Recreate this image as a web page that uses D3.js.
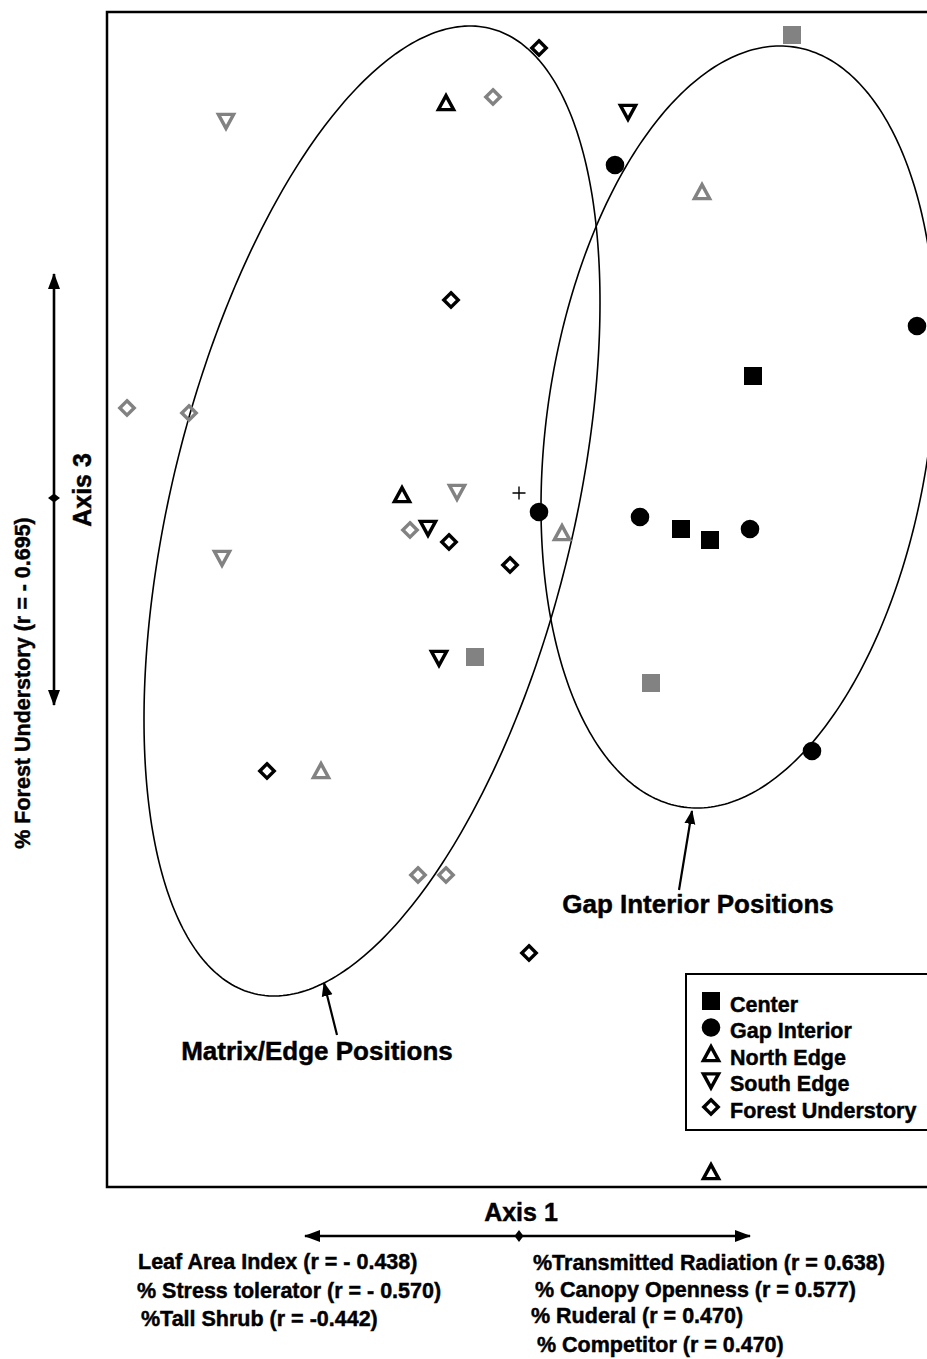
<!DOCTYPE html>
<html><head><meta charset="utf-8">
<script src="https://cdn.jsdelivr.net/npm/d3@7"></script>
<style>
body{margin:0;background:#fff}
svg{display:block}
text{font-family:"Liberation Sans",Arial,Helvetica,sans-serif;font-weight:bold;fill:#000;stroke:#000;stroke-width:0.45px}
</style>
</head><body>
<svg id="chart" width="927" height="1359"></svg>
<script>
// ---- DATA (ordination scores: [Axis 1, Axis 3]) ----
const groups = ["Center", "Gap Interior", "North Edge", "South Edge", "Forest Understory"];
const groupShapes = ["square", "circle", "triUp", "triDown", "diamond"];

const centerBlack = [[2.34, 1.17], [1.62, -0.36], [1.91, -0.47]];
const centerGray  = [[2.73, 4.58], [-0.44, -1.64], [1.32, -1.90]];
const gapBlack    = [[0.96, 3.28], [3.98, 1.67], [0.20, -0.19], [1.21, -0.24], [2.31, -0.36], [2.93, -2.58]];
const gapGray     = [];
const northBlack  = [[-0.73, 3.90], [-1.17, -0.02], [1.92, -6.79]];
const northGray   = [[1.83, 3.01], [0.43, -0.40], [-1.98, -2.78]];
const southBlack  = [[1.09, 3.81], [-0.91, -0.35], [-0.80, -1.65]];
const southGray   = [[-2.93, 3.72], [-0.62, 0.01], [-2.97, -0.65]];
const forestBlack = [[0.20, 4.45], [-0.68, 1.93], [-0.70, -0.49], [-0.09, -0.72], [-2.52, -2.78], [0.10, -4.60]];
const forestGray  = [[-0.26, 3.96], [-3.92, 0.85], [-3.30, 0.80], [-1.09, -0.37], [-1.01, -3.82], [-0.73, -3.82]];
const centroid = [0, 0];

// ellipses
const ellipseNames   = ["Matrix/Edge Positions", "Gap Interior Positions"];
const ellipseCenters = [[-1.47, -0.18], [2.195, 0.66]];
const ellipseRadii   = [[2.28, 4.85], [1.975, 3.81]];
const ellipseCorr    = [0.43, 0.21];
const labelAt        = [[-2.02, -5.67], [1.79, -4.20]];
const pointerFrom    = [[-1.82, -5.42], [1.60, -3.97]];
const pointerTo      = [[-1.95, -4.90], [1.73, -3.18]];

// axis labels
const xAxisTitle = "Axis 1";
const yAxisTitle = "Axis 3";
const yAxisVar = "% Forest Understory (r = - 0.695)";
const leftVars = ["Leaf Area Index (r = - 0.438)", "% Stress tolerator (r = - 0.570)", "%Tall Shrub (r = -0.442)"];
const rightVars = ["%Transmitted Radiation (r = 0.638)", "% Canopy Openness (r = 0.577)", "% Ruderal (r = 0.470)", "% Competitor (r = 0.470)"];

// ---- LAYOUT ----
const plot = {left: 107, top: 12, right: 935, bottom: 1187};
const BLACK = "#000", GRAY = "#828282";

const x = d3.scaleLinear().domain([-4.12, 4.16]).range([plot.left, plot.right]);
const y = d3.scaleLinear().domain([4.81, -6.94]).range([plot.top, plot.bottom]);

const svg = d3.select("#chart");
const defs = svg.append("defs");
defs.append("marker").attr("id", "ah").attr("viewBox", "0 -7 16 14")
  .attr("markerUnits", "userSpaceOnUse").attr("markerWidth", 16).attr("markerHeight", 14)
  .attr("refX", 15).attr("refY", 0).attr("orient", "auto-start-reverse")
  .append("path").attr("d", "M0,-6L16,0L0,6Z").attr("fill", BLACK);
defs.append("marker").attr("id", "ah2").attr("viewBox", "0 -6 14 12")
  .attr("markerUnits", "userSpaceOnUse").attr("markerWidth", 14).attr("markerHeight", 12)
  .attr("refX", 13).attr("refY", 0).attr("orient", "auto-start-reverse")
  .append("path").attr("d", "M0,-5.5L14,0L0,5.5Z").attr("fill", BLACK);

// frame
svg.append("rect").attr("x", plot.left).attr("y", plot.top)
  .attr("width", plot.right - plot.left).attr("height", plot.bottom - plot.top)
  .attr("fill", "none").attr("stroke", BLACK).attr("stroke-width", 2.5);

// ellipses
ellipseCenters.forEach((c, i) => {
  const [rx, ry] = ellipseRadii[i];
  const phi = Math.acos(ellipseCorr[i]);
  const pts = d3.range(0, 361).map(k => {
    const t = k * Math.PI / 180;
    return [c[0] + rx * Math.cos(t), c[1] + ry * Math.cos(t - phi)];
  });
  svg.append("path")
    .attr("d", d3.line().x(d => x(d[0])).y(d => y(d[1])).curve(d3.curveLinearClosed)(pts))
    .attr("fill", "none").attr("stroke", BLACK).attr("stroke-width", 1.6);
  svg.append("line")
    .attr("x1", x(pointerFrom[i][0])).attr("y1", y(pointerFrom[i][1]))
    .attr("x2", x(pointerTo[i][0])).attr("y2", y(pointerTo[i][1]))
    .attr("stroke", BLACK).attr("stroke-width", 2.2).attr("marker-end", "url(#ah2)");
  svg.append("text").attr("x", x(labelAt[i][0])).attr("y", y(labelAt[i][1]))
    .attr("text-anchor", "middle").attr("font-size", 26).text(ellipseNames[i]);
});

// centroid cross
svg.append("path")
  .attr("d", `M${x(centroid[0]) - 6.5},${y(centroid[1])}h13M${x(centroid[0])},${y(centroid[1]) - 6.5}v13`)
  .attr("stroke", BLACK).attr("stroke-width", 1.4).attr("fill", "none");

// symbol generator
function shapePath(s) {
  switch (s) {
    case "square": return "M-9,-9H9V9H-9Z";
    case "circle": return d3.symbol(d3.symbolCircle, Math.PI * 9.3 * 9.3)();
    case "triUp": return "M-7.6,6.6L7.6,6.6L0,-7.4Z";
    case "triDown": return "M-7.6,-6.6L7.6,-6.6L0,7.4Z";
    case "diamond": return "M0,-7.2L7.2,0L0,7.2L-7.2,0Z";
  }
}
function drawMarks(data, shape, color) {
  const filled = shape === "square" || shape === "circle";
  svg.append("g").selectAll("path").data(data).join("path")
    .attr("transform", d => `translate(${x(d[0])},${y(d[1])})`)
    .attr("d", shapePath(shape))
    .attr("fill", filled ? color : "none")
    .attr("stroke", filled ? "none" : color)
    .attr("stroke-width", 3.4).attr("stroke-linejoin", "miter");
}
const seriesBlack = [centerBlack, gapBlack, northBlack, southBlack, forestBlack];
const seriesGray  = [centerGray, gapGray, northGray, southGray, forestGray];
groupShapes.forEach((s, i) => { drawMarks(seriesGray[i], s, GRAY); });
groupShapes.forEach((s, i) => { drawMarks(seriesBlack[i], s, BLACK); });

// legend
const lg = svg.append("g");
lg.append("rect").attr("x", 686).attr("y", 974).attr("width", 260).attr("height", 156)
  .attr("fill", "#fff").attr("stroke", BLACK).attr("stroke-width", 2);
groups.forEach((g, i) => {
  const cy = 1001 + i * 26.5;
  const filled = i < 2;
  lg.append("path").attr("transform", `translate(711,${cy})`).attr("d", shapePath(groupShapes[i]))
    .attr("fill", filled ? BLACK : "none").attr("stroke", filled ? "none" : BLACK).attr("stroke-width", 3.4);
  lg.append("text").attr("x", 730).attr("y", cy + 10.5).attr("font-size", 21.5).text(g);
});

// Axis 1 (horizontal) indicator
const ax1y = 1236, ax1c = 519;
svg.append("line").attr("x1", ax1c).attr("x2", 305).attr("y1", ax1y).attr("y2", ax1y)
  .attr("stroke", BLACK).attr("stroke-width", 2.6).attr("marker-end", "url(#ah)");
svg.append("line").attr("x1", ax1c).attr("x2", 750).attr("y1", ax1y).attr("y2", ax1y)
  .attr("stroke", BLACK).attr("stroke-width", 2.6).attr("marker-end", "url(#ah)");
svg.append("path").attr("transform", `translate(${ax1c},${ax1y})`).attr("d", "M0,-6L4.5,0L0,6L-4.5,0Z").attr("fill", BLACK);
svg.append("text").attr("x", 521).attr("y", 1221).attr("text-anchor", "middle").attr("font-size", 25).text(xAxisTitle);
leftVars.forEach((t, i) => {
  svg.append("text").attr("x", [138, 137, 141][i]).attr("y", [1269, 1298, 1326][i]).attr("font-size", 21.5).text(t);
});
rightVars.forEach((t, i) => {
  svg.append("text").attr("x", [533, 535, 531, 537][i]).attr("y", [1270, 1297, 1323, 1352][i]).attr("font-size", 21.5).text(t);
});

// Axis 3 (vertical) indicator
const ax3x = 54, ax3c = 498;
svg.append("line").attr("x1", ax3x).attr("x2", ax3x).attr("y1", ax3c).attr("y2", 274)
  .attr("stroke", BLACK).attr("stroke-width", 2.6).attr("marker-end", "url(#ah)");
svg.append("line").attr("x1", ax3x).attr("x2", ax3x).attr("y1", ax3c).attr("y2", 705)
  .attr("stroke", BLACK).attr("stroke-width", 2.6).attr("marker-end", "url(#ah)");
svg.append("path").attr("transform", `translate(${ax3x},${ax3c})`).attr("d", "M-6,0L0,-4.5L6,0L0,4.5Z").attr("fill", BLACK);
svg.append("text").attr("transform", "translate(91,490) rotate(-90)").attr("text-anchor", "middle")
  .attr("font-size", 25).text(yAxisTitle);
svg.append("text").attr("transform", "translate(30,683) rotate(-90)").attr("text-anchor", "middle")
  .attr("font-size", 21.5).text(yAxisVar);
</script>
</body></html>
